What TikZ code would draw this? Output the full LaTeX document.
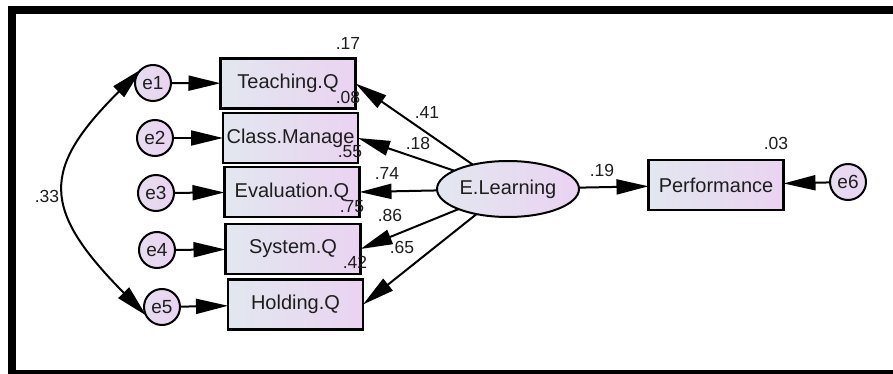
\documentclass[tikz,border=0pt]{standalone}
\usepackage{fontspec}
\setmainfont{Liberation Sans}
\usepackage{tikz}
\usetikzlibrary{shapes.geometric,arrows.meta}

\definecolor{fillL}{HTML}{E2E7EF}
\definecolor{fillR}{HTML}{EAD3F1}
\definecolor{ink}{HTML}{1E1E1E}

\begin{document}
\begin{tikzpicture}[x=1pt, y=1pt, yscale=-1, inner sep=0pt, outer sep=0pt,
  obs/.style={draw=black, line width=2.2pt, left color=fillL, right color=fillR,
    minimum width=135pt, minimum height=50pt, text=ink, font=\fontsize{20}{22}\selectfont},
  err/.style={circle, draw=black, line width=2pt, left color=fillL!50!fillR, right color=fillR,
    minimum size=36pt, text=ink, font=\fontsize{19}{20}\selectfont},
  lat/.style={ellipse, draw=black, line width=2pt, left color=fillL, right color=fillR,
    minimum width=142pt, minimum height=56pt, text=ink, font=\fontsize{20}{22}\selectfont},
  reg/.style={draw=black, line width=2pt, -{Triangle[length=32pt,width=15pt]}},
  cov/.style={draw=black, line width=2pt, {Triangle[length=32pt,width=15pt]}-{Triangle[length=32pt,width=15pt]}},
  coef/.style={text=ink, font=\fontsize{17.5}{19}\selectfont}]
\useasboundingbox (0,0) rectangle (893,374);
\clip (0,0) rectangle (893,374);
\fill[white] (0,0) rectangle (893,374);
\draw[black, line width=8pt] (11.5,10.5) rectangle (910,373.5);

\node[obs] (teach) at (288,83.5) {Teaching.Q};
\node[obs] (class) at (290.5,138) {Class.Manage};
\node[obs] (eval) at (292,192) {Evaluation.Q};
\node[obs] (sys) at (293,249) {System.Q};
\node[obs] (hold) at (295.5,304.5) {Holding.Q};
\node[obs] (perf) at (716,185) {Performance};

\node[err] (e1) at (153,83) {e1};
\node[err] (e2) at (155,138) {e2};
\node[err] (e3) at (156,193) {e3};
\node[err] (e4) at (157,250) {e4};
\node[err] (e5) at (162,307) {e5};
\node[err] (e6) at (848,182) {e6};

\node[lat] (elearn) at (508,189) {E.Learning};

\draw[reg] (e1) -- (teach);
\draw[reg] (e2) -- (class);
\draw[reg] (e3) -- (eval);
\draw[reg] (e4) -- (sys);
\draw[reg] (e5) -- (hold);
\draw[reg] (e6) -- (perf);
\draw[reg] (elearn) -- (teach.east);
\draw[reg] (elearn) -- (class.east);
\draw[reg] (elearn) -- (eval.east);
\draw[reg] (elearn) -- (sys.east);
\draw[reg] (elearn) -- (hold.east);
\draw[reg] (elearn) -- (perf);
\draw[cov] (e1.130) .. controls (41,169) and (41,209) .. (e5.208);

\node[coef] (r17) at (348,43) {.17};
\node[coef] (r08) at (348,97) {.08};
\node[coef] (r55) at (350,152) {.55};
\node[coef] (r75) at (352,207) {.75};
\node[coef] (r42) at (355,262) {.42};
\node[coef] (r03) at (776,143) {.03};
\node[coef] (b41) at (427,112) {.41};
\node[coef] (b18) at (418,143) {.18};
\node[coef] (b74) at (387,173) {.74};
\node[coef] (b86) at (390,215) {.86};
\node[coef] (b65) at (402,247) {.65};
\node[coef] (b19) at (602,170) {.19};
\node[coef] (c33) at (47,196) {.33};
\end{tikzpicture}
\end{document}
